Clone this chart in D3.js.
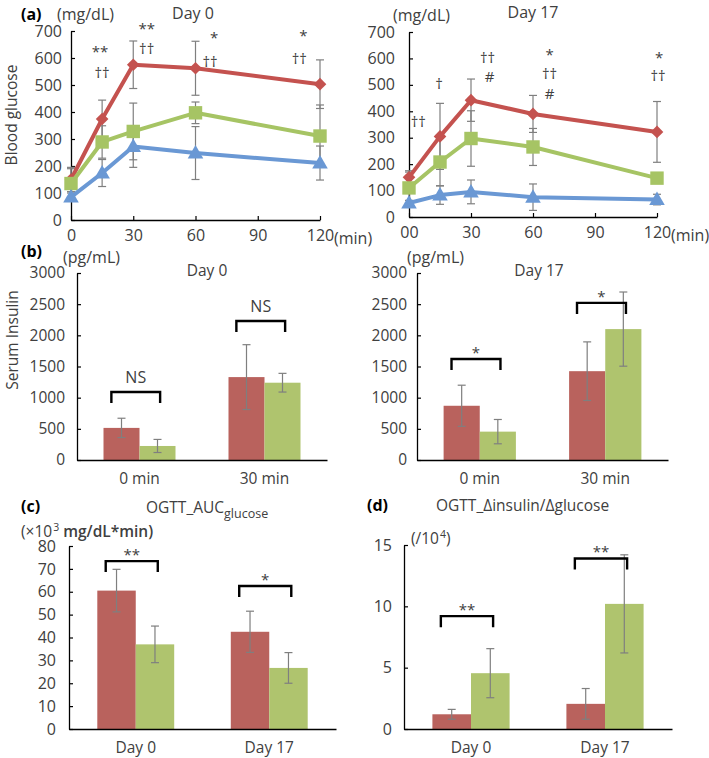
<!DOCTYPE html>
<html><head><meta charset="utf-8">
<script src="https://cdn.jsdelivr.net/npm/d3@7"></script>
<style>
body{margin:0;background:#fff;}
svg{font-family:"Open Sans",sans-serif;}
</style></head><body>
<svg id="chart" width="709" height="758"></svg>
<script>
// ---------- DATA ----------
const timePoints = [0, 15, 30, 60, 120];
const timeTicks = [0, 30, 60, 90, 120];
const timeTickLabelsD0 = ["0", "30", "60", "90", "120"];
const timeTickLabelsD17 = ["00", "30", "60", "90", "120"];
const glucoseTicks = [0, 100, 200, 300, 400, 500, 600, 700];

const glucoseD0Red = [150, 374, 575, 562, 503];
const glucoseD0RedErr = [45, 70, 88, 100, 90];
const glucoseD0Green = [135, 289, 328, 397, 311];
const glucoseD0GreenErr = [55, 60, 105, 40, 115];
const glucoseD0Blue = [85, 174, 272, 248, 211];
const glucoseD0BlueErr = [15, 50, 77, 98, 63];

const glucoseD17Red = [150, 305, 442, 390, 322];
const glucoseD17RedErr = [25, 125, 80, 70, 115];
const glucoseD17Green = [110, 208, 297, 265, 147];
const glucoseD17GreenErr = [60, 90, 105, 70, 20];
const glucoseD17Blue = [53, 83, 95, 75, 66];
const glucoseD17BlueErr = [10, 35, 45, 50, 20];

// significance marks: [time, glucose level, text]
const sigGlucoseD0 = [[14, 633, "**"], [15, 541, "††"], [36.5, 718, "**"], [36.5, 630, "††"],
  [69, 685, "*"], [67, 585, "††"], [112, 692, "*"], [110, 596, "††"]];
const sigGlucoseD17 = [[4.5, 356, "††"], [14.5, 500, "†"], [38, 598, "††"], [39, 530, "#"],
  [68, 626, "*"], [68, 541, "††"], [68, 468, "#"], [121, 613, "*"], [120.5, 530, "††"]];

const insulinCats = ["0 min", "30 min"];
const insulinTicks = [0, 500, 1000, 1500, 2000, 2500, 3000];
const insulinD0Red = [515, 1330];
const insulinD0RedErr = [155, 520];
const insulinD0Green = [225, 1240];
const insulinD0GreenErr = [105, 150];
const insulinD0Sig = ["NS", "NS"];
const insulinD0SigLevel = [1091, 2231];
const insulinD17Red = [870, 1425];
const insulinD17RedErr = [330, 470];
const insulinD17Green = [455, 2100];
const insulinD17GreenErr = [195, 595];
const insulinD17Sig = ["*", "*"];
const insulinD17SigLevel = [1621, 2520];

const dayCats = ["Day 0", "Day 17"];
const aucTicks = [0, 10, 20, 30, 40, 50, 60, 70, 80];
const aucRed = [60.5, 42.5];
const aucRedErr = [9.3, 9];
const aucGreen = [37, 26.7];
const aucGreenErr = [8, 6.7];
const aucSig = ["**", "*"];
const aucSigLevel = [73.4, 62.5];

const ratioTicks = [0, 5, 10, 15];
const ratioRed = [1.2, 2.05];
const ratioRedErr = [0.4, 1.25];
const ratioGreen = [4.55, 10.2];
const ratioGreenErr = [2, 4];
const ratioSig = ["**", "**"];
const ratioSigLevel = [9.2, 13.9];

// ---------- STYLE ----------
const C_RED_LINE = "#c4524f", C_GREEN_LINE = "#a6c464", C_BLUE_LINE = "#6a98d4";
const C_RED_BAR = "#b9625d", C_GREEN_BAR = "#afc46e";
const C_ERR = "#7f7f7f", C_TEXT = "#404040";
const svg = d3.select("#chart");

function glyphDy(t) {
  if (t[0] === "*") return "0.55em";
  if (t[0] === "#") return "0.36em";
  if (t[0] === "†") return "0.3em";
  return "0.35em";
}

function styleAxis(size) {
  return g => {
    g.select(".domain").attr("stroke", "#000").attr("stroke-width", 1.3);
    g.selectAll(".tick line").attr("stroke", "#000").attr("stroke-width", 1.2);
    g.selectAll("text").attr("fill", C_TEXT).style("font-size", size + "px").style("font-family", "Open Sans");
  };
}

function linePanel(o) {
  const x = d3.scaleLinear().domain([0, 120]).range([o.x0, o.x1]);
  const y = d3.scaleLinear().domain([0, 700]).range([o.yB, o.yT]);
  const g = svg.append("g");
  g.append("g").attr("transform", `translate(0,${o.yB})`)
    .call(d3.axisBottom(x).tickValues(timeTicks).tickSizeInner(-4).tickSizeOuter(0).tickPadding(10)
      .tickFormat((d, i) => o.tickLabels[i]))
    .call(styleAxis(16));
  g.append("g").attr("transform", `translate(${o.x0},0)`)
    .call(d3.axisLeft(y).tickValues(glucoseTicks).tickSizeInner(-4).tickSizeOuter(0).tickPadding(o.yPad).tickFormat(d3.format("d")))
    .call(styleAxis(16));
  const series = [
    {v: o.red, e: o.redErr, c: C_RED_LINE, sym: "diamond"},
    {v: o.green, e: o.greenErr, c: C_GREEN_LINE, sym: "square"},
    {v: o.blue, e: o.blueErr, c: C_BLUE_LINE, sym: "triangle"}
  ];
  series.forEach(s => {
    timePoints.forEach((t, i) => {
      const cx = x(t), yt = y(s.v[i] + s.e[i]), yb = y(s.v[i] - s.e[i]);
      g.append("line").attr("x1", cx).attr("x2", cx).attr("y1", yt).attr("y2", yb).attr("stroke", C_ERR).attr("stroke-width", 1.2);
      [yt, yb].forEach(yy => g.append("line").attr("x1", cx - 4).attr("x2", cx + 4).attr("y1", yy).attr("y2", yy).attr("stroke", C_ERR).attr("stroke-width", 1.2));
    });
  });
  const line = d3.line().x((d, i) => x(timePoints[i])).y(d => y(d));
  series.forEach(s => {
    g.append("path").datum(s.v).attr("d", line).attr("fill", "none").attr("stroke", s.c).attr("stroke-width", 4).attr("stroke-linejoin", "round");
    s.v.forEach((v, i) => {
      let p;
      if (s.sym === "diamond") p = d3.symbol(d3.symbolSquare, 80)();
      else if (s.sym === "square") p = d3.symbol(d3.symbolSquare, 180)();
      else p = d3.symbol(d3.symbolTriangle, 105)();
      g.append("path").attr("d", p)
        .attr("transform", `translate(${x(timePoints[i])},${y(v) + (s.sym === "triangle" ? 1 : 0)})` + (s.sym === "diamond" ? " rotate(45)" : ""))
        .attr("fill", s.c);
    });
  });
  o.sig.forEach(([t, lv, txt]) => {
    g.append("text").attr("x", x(t)).attr("y", y(lv)).attr("dy", glyphDy(txt)).attr("text-anchor", "middle")
      .attr("fill", C_TEXT).style("font-size", "15px").text(txt);
  });
  g.append("text").attr("x", x(120) + 14).attr("y", o.yB + 24).attr("fill", C_TEXT).style("font-size", "16px").text("(min)");
}

function barPanel(o) {
  const x = d3.scaleBand().domain(o.cats).range([o.x0, o.x1]);
  const y = d3.scaleLinear().domain([0, o.max]).range([o.yB, o.yT]);
  const g = svg.append("g");
  const bw = x.bandwidth(), w = bw * 0.288;
  o.cats.forEach((c, i) => {
    const cx = x(c) + bw / 2;
    [[o.red, C_RED_BAR, cx - w], [o.green, C_GREEN_BAR, cx]].forEach(([v, col, bx]) => {
      g.append("rect").attr("x", bx).attr("width", w).attr("y", y(v[i])).attr("height", o.yB - y(v[i])).attr("fill", col);
    });
    [[o.red, o.redErr, cx - w / 2], [o.green, o.greenErr, cx + w / 2]].forEach(([v, e, ex]) => {
      const yt = y(v[i] + e[i]), yb = y(v[i] - e[i]);
      g.append("line").attr("x1", ex).attr("x2", ex).attr("y1", yt).attr("y2", yb).attr("stroke", C_ERR).attr("stroke-width", 1.2);
      [yt, yb].forEach(yy => g.append("line").attr("x1", ex - 4).attr("x2", ex + 4).attr("y1", yy).attr("y2", yy).attr("stroke", C_ERR).attr("stroke-width", 1.2));
    });
    const bl = cx - bw * 0.225, br = cx + bw * 0.165, by = y(o.sigLevel[i]);
    g.append("path").attr("d", `M${bl},${by + 11}V${by}H${br}V${by + 11}`).attr("fill", "none").attr("stroke", "#000").attr("stroke-width", 2.4);
    const txt = o.sig[i];
    g.append("text").attr("x", (bl + br) / 2).attr("y", txt === "NS" ? by - 9 : by - 1)
      .attr("text-anchor", "middle").attr("fill", C_TEXT).style("font-size", txt === "NS" ? "16px" : "15px").text(txt);
  });
  g.append("g").attr("transform", `translate(0,${o.yB})`)
    .call(d3.axisBottom(x).tickSize(0).tickPadding(o.xPad))
    .call(styleAxis(15.5));
  g.append("g").attr("transform", `translate(${o.x0},0)`)
    .call(d3.axisLeft(y).tickValues(o.ticks).tickSizeInner(-4).tickSizeOuter(0).tickPadding(o.yPad).tickFormat(d3.format("d")))
    .call(styleAxis(o.tickSize || 15.5));
}

function txt(x, y, s, opt = {}) {
  const t = svg.append("text").attr("x", x).attr("y", y).attr("fill", opt.fill || C_TEXT)
    .style("font-size", (opt.size || 15.5) + "px").attr("text-anchor", opt.anchor || "start");
  if (opt.bold) t.style("font-weight", "bold").attr("fill", "#000");
  if (opt.rotate) t.attr("transform", `rotate(-90,${x},${y})`);
  t.text(s);
  return t;
}

// ---------- PANEL (a) ----------
linePanel({x0: 71, x1: 320, yT: 31, yB: 220, yPad: 9, tickLabels: timeTickLabelsD0,
  red: glucoseD0Red, redErr: glucoseD0RedErr, green: glucoseD0Green, greenErr: glucoseD0GreenErr,
  blue: glucoseD0Blue, blueErr: glucoseD0BlueErr, sig: sigGlucoseD0});
linePanel({x0: 409, x1: 657, yT: 32, yB: 217, yPad: 14, tickLabels: timeTickLabelsD17,
  red: glucoseD17Red, redErr: glucoseD17RedErr, green: glucoseD17Green, greenErr: glucoseD17GreenErr,
  blue: glucoseD17Blue, blueErr: glucoseD17BlueErr, sig: sigGlucoseD17});
txt(21, 20, "(a)", {bold: true, size: 16});
txt(57, 20, "(mg/dL)", {size: 16});
txt(193, 19, "Day 0", {anchor: "middle", size: 16});
txt(393, 21, "(mg/dL)", {size: 16});
txt(533, 18, "Day 17", {anchor: "middle", size: 16});
txt(17, 115, "Blood glucose", {anchor: "middle", rotate: true, size: 15.5});

// ---------- PANEL (b) ----------
barPanel({x0: 77, x1: 327, yT: 273, yB: 460, max: 3000, ticks: insulinTicks, cats: insulinCats, yPad: 12, xPad: 13,
  red: insulinD0Red, redErr: insulinD0RedErr, green: insulinD0Green, greenErr: insulinD0GreenErr,
  sig: insulinD0Sig, sigLevel: insulinD0SigLevel});
barPanel({x0: 417, x1: 668, yT: 273, yB: 460, max: 3000, ticks: insulinTicks, cats: insulinCats, yPad: 10, xPad: 13,
  red: insulinD17Red, redErr: insulinD17RedErr, green: insulinD17Green, greenErr: insulinD17GreenErr,
  sig: insulinD17Sig, sigLevel: insulinD17SigLevel});
txt(21, 257, "(b)", {bold: true, size: 16});
txt(63, 263, "(pg/mL)", {size: 16});
txt(207, 276, "Day 0", {anchor: "middle"});
txt(407, 263, "(pg/mL)", {size: 16});
txt(539, 276, "Day 17", {anchor: "middle"});
txt(18, 340, "Serum Insulin", {anchor: "middle", rotate: true});

// ---------- PANEL (c) ----------
barPanel({x0: 69, x1: 336, yT: 546, yB: 729, max: 80, ticks: aucTicks, cats: dayCats, yPad: 13, xPad: 13, tickSize: 16,
  red: aucRed, redErr: aucRedErr, green: aucGreen, greenErr: aucGreenErr,
  sig: aucSig, sigLevel: aucSigLevel});
txt(21, 512, "(c)", {bold: true, size: 16});
{
  const t = txt(146, 513, "OGTT_AUC");
  t.append("tspan").attr("dy", 5).style("font-size", "12.5px").text("glucose");
}
{
  const t = txt(21, 537, "(×10");
  t.append("tspan").attr("dx", 1).attr("dy", -6).style("font-size", "10.5px").text("3");
  t.append("tspan").attr("dy", 6).style("font-weight", "600").text(" mg/dL*min)");
}

// ---------- PANEL (d) ----------
barPanel({x0: 404, x1: 672, yT: 545, yB: 729, max: 15, ticks: ratioTicks, cats: dayCats, yPad: 12, xPad: 13, tickSize: 16,
  red: ratioRed, redErr: ratioRedErr, green: ratioGreen, greenErr: ratioGreenErr,
  sig: ratioSig, sigLevel: ratioSigLevel});
txt(367, 511, "(d)", {bold: true, size: 16});
txt(436, 511, "OGTT_Δinsulin/Δglucose");
{
  const t = txt(411, 544, "(/10");
  t.append("tspan").attr("dx", 1).attr("dy", -6).style("font-size", "10.5px").text("4");
  t.append("tspan").attr("dy", 6).text(")");
}
</script>
</body></html>
